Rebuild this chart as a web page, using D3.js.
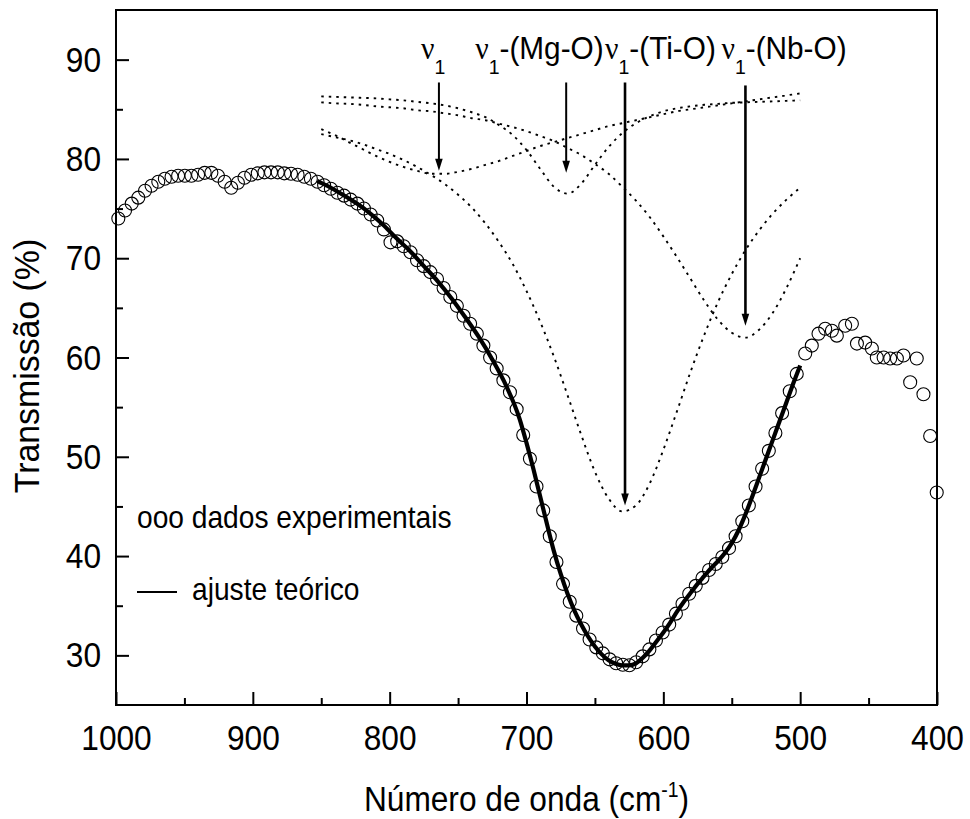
<!DOCTYPE html>
<html>
<head>
<meta charset="utf-8">
<script src="https://cdn.jsdelivr.net/npm/d3@7"></script>
<style>
  html, body { margin: 0; padding: 0; background: #fff; }
  svg { display: block; font-family: "Liberation Sans", Arial, sans-serif; }
</style>
</head>
<body>
<svg id="chart" width="970" height="819"></svg>
<script>
// FTIR transmission spectrum (wavenumber cm-1, transmission %)
const experimental = [
  [998.3,74.0],[993.4,74.8],[988.5,75.5],[983.7,76.1],[978.8,76.8],[974.0,77.3],[969.1,77.7],
  [964.3,78.0],[959.4,78.2],[954.6,78.3],[949.7,78.3],[944.9,78.3],[940.0,78.4],[935.2,78.6],
  [930.3,78.6],[925.5,78.3],[920.6,77.7],[915.8,77.1],[910.9,77.6],[906.1,78.1],[901.2,78.4],
  [896.4,78.55],[891.5,78.65],[886.7,78.65],[881.8,78.65],[877.0,78.55],[872.1,78.5],[867.3,78.4],
  [862.4,78.2],[857.6,78.0],[852.7,77.7],[847.9,77.35],[843.0,77.0],[838.2,76.6],[833.3,76.3],
  [828.5,75.9],[823.6,75.5],[818.8,75.0],[813.9,74.4],[809.1,73.8],[804.2,72.9],[799.4,71.6],
  [794.5,71.7],[789.7,71.2],[784.8,70.6],[780.0,69.8],[775.1,69.2],[770.3,68.6],[765.4,67.9],
  [760.6,67.0],[755.7,66.1],[750.9,65.2],[746.0,64.2],[741.2,63.4],[736.3,62.4],[731.5,61.2],
  [726.6,60.0],[721.8,58.9],[716.9,57.7],[712.1,56.5],[707.2,54.8],[702.4,52.2],[697.5,49.8],
  [692.7,47.0],[687.8,44.6],[683.0,42.0],[678.1,39.4],[673.3,37.2],[668.4,35.4],[663.6,34.0],
  [658.7,32.7],[653.9,31.6],[649.0,30.8],[644.2,30.2],[639.3,29.6],[634.5,29.2],[629.6,29.05],
  [624.8,29.0],[619.9,29.3],[615.1,29.9],[610.2,30.6],[605.4,31.5],[600.5,32.3],[595.7,33.1],
  [590.8,34.2],[586.0,35.2],[581.1,36.2],[576.3,37.0],[571.4,37.8],[566.6,38.6],[561.7,39.2],
  [556.9,39.9],[552.0,40.8],[547.2,42.0],[542.3,43.5],[537.5,45.1],[532.6,47.0],[527.8,48.8],
  [522.9,50.6],[518.1,52.4],[513.2,54.4],[507.6,56.6],[502.5,58.35],[496.3,60.4],[491.5,61.2],
  [486.6,62.4],[481.7,62.9],[476.8,62.7],[473.2,62.2],[467.1,63.2],[462.2,63.4],[458.5,61.4],
  [452.5,61.5],[447.6,60.9],[444.0,60.0],[439.0,60.0],[434.2,59.9],[429.3,59.9],[424.5,60.2],
  [419.6,57.5],[414.8,59.9],[409.9,56.3],[405.0,52.1],[400.2,46.4]
];

// theoretical fit (sum of the bands), 853-500 cm-1
const fitCurve = [
  [853,77.8],[845,77.25],[835,76.45],[825,75.6],[815,74.6],[805,73.4],[795,72.0],[785,70.7],
  [775,69.2],[765,67.7],[755,66.0],[745,64.1],[735,62.1],[725,59.8],[715,57.2],[705,53.8],
  [700,51.4],[695,48.8],[690,46.0],[685,43.2],[680,40.5],[675,38.2],[670,36.2],[665,34.5],
  [660,33.1],[655,31.9],[650,30.9],[645,30.1],[640,29.5],[635,29.15],[630,29.0],[625,29.0],
  [620,29.2],[615,29.75],[610,30.5],[605,31.4],[600,32.3],[595,33.3],[590,34.4],[585,35.4],
  [580,36.3],[575,37.2],[570,38.0],[565,38.8],[560,39.5],[555,40.3],[550,41.3],[545,42.6],
  [540,44.2],[535,46.0],[530,47.9],[525,49.8],[520,51.7],[515,53.6],[510,55.5],[505,57.4],[500,59.2]
];

// individual band components, sampled every 10 cm-1 from 850 to 500
const bandWavenumbers = [850,840,830,820,810,800,790,780,770,760,750,740,730,720,710,700,690,680,
  670,660,650,640,630,620,610,600,590,580,570,560,550,540,530,520,510,500];
const nu1Band = [83.0,82.4,81.7,81.0,80.3,79.7,79.2,78.8,78.5,78.5,78.7,79.0,79.4,79.8,80.3,80.8,81.3,81.7,
  82.1,82.5,82.9,83.3,83.6,83.9,84.2,84.5,84.8,85.0,85.2,85.4,85.6,85.8,86.0,86.2,86.4,86.6];
const mgOBand = [86.3,86.25,86.2,86.15,86.1,86.0,85.9,85.75,85.6,85.4,85.1,84.7,84.2,83.4,82.4,80.9,79.0,77.2,
  76.5,77.5,79.4,81.2,82.6,83.6,84.3,84.8,85.1,85.3,85.45,85.55,85.65,85.7,85.75,85.8,85.85,85.9];
const tiOBand = [82.5,82.2,81.9,81.5,81.0,80.5,79.9,79.2,78.4,77.5,76.4,75.1,73.5,71.6,69.4,66.7,63.6,60.1,
  56.2,52.2,48.5,45.8,44.5,45.1,47.3,50.7,54.6,58.6,62.3,65.6,68.4,70.8,72.8,74.5,75.9,77.1];
const nbOBand = [85.7,85.6,85.55,85.45,85.3,85.2,85.1,84.9,84.8,84.6,84.4,84.1,83.9,83.55,83.2,82.8,82.3,81.8,
  81.1,80.4,79.5,78.5,77.2,75.8,74.15,72.2,70.1,67.9,65.7,63.8,62.5,62.0,62.8,64.5,67.0,70.0];

// band assignments: label suffix, arrow wavenumber, arrow start and tip (%)
const bandLabels = ["", "-(Mg-O)", "-(Ti-O)", "-(Nb-O)"];
const bandArrowWn = [764, 671, 628, 540];
const bandArrowFrom = [87.7, 87.7, 87.7, 87.4];
const bandArrowTo = [78.8, 78.6, 45.1, 63.2];

const xMajorTicks = [1000, 900, 800, 700, 600, 500, 400];
const xMinorTicks = [950, 850, 750, 650, 550, 450];
const yMajorTicks = [30, 40, 50, 60, 70, 80, 90];
const yMinorTicks = [35, 45, 55, 65, 75, 85];

const svg = d3.select("#chart");
const plot = { left: 116, right: 937, top: 10, bottom: 705 };
const narrow = 0.88;   // horizontal condensing of the lettering

const x = d3.scaleLinear().domain([1000, 400]).range([plot.left, plot.right]);
const y = d3.scaleLinear().domain([25, 95]).range([plot.bottom, plot.top]);

// axes with inward ticks
function styleAxis(g) {
  g.select(".domain").remove();
  g.selectAll(".tick line").attr("stroke", "#000").attr("stroke-width", 2);
  g.selectAll(".tick text").attr("fill", "#000").style("font-size", "36px")
    .style("font-family", "'Liberation Sans', Arial, sans-serif")
    .attr("transform", `scale(${narrow},1)`);
}
svg.append("g").attr("transform", `translate(0,${plot.bottom})`)
  .call(d3.axisBottom(x).tickValues(xMajorTicks).tickSize(-13).tickPadding(19).tickFormat(d3.format("d")))
  .call(styleAxis);
svg.append("g").attr("transform", `translate(0,${plot.bottom})`)
  .call(d3.axisBottom(x).tickValues(xMinorTicks).tickSize(-7).tickFormat(""))
  .call(styleAxis);
svg.append("g").attr("transform", `translate(${plot.left},0)`)
  .call(d3.axisLeft(y).tickValues(yMajorTicks).tickSize(-13).tickPadding(17).tickFormat(d3.format("d")))
  .call(styleAxis);
svg.append("g").attr("transform", `translate(${plot.left},0)`)
  .call(d3.axisLeft(y).tickValues(yMinorTicks).tickSize(-7).tickFormat(""))
  .call(styleAxis);

// band components (dotted)
const bandLine = d3.line().x(d => x(d[0])).y(d => y(d[1])).curve(d3.curveMonotoneX);
[nu1Band, mgOBand, tiOBand, nbOBand].forEach(vals => {
  svg.append("path")
    .attr("d", bandLine(bandWavenumbers.map((w, i) => [w, vals[i]])))
    .attr("fill", "none").attr("stroke", "#000")
    .attr("stroke-width", 1.9).attr("stroke-dasharray", "2.5,5");
});

// experimental points
svg.append("g").selectAll("circle").data(experimental).join("circle")
  .attr("cx", d => x(d[0])).attr("cy", d => y(d[1])).attr("r", 6.5)
  .attr("fill", "none").attr("stroke", "#000").attr("stroke-width", 1.1);

// fitted curve
svg.append("path")
  .attr("d", d3.line().x(d => x(d[0])).y(d => y(d[1])).curve(d3.curveMonotoneX)(fitCurve))
  .attr("fill", "none").attr("stroke", "#000").attr("stroke-width", 4.2)
  .attr("stroke-linejoin", "round");

// band arrows and labels
const labelShift = [-18, -91, -20, -24];
const arrowWidth = [2, 2, 2.6, 2.6];
bandArrowWn.forEach((wn, i) => {
  const ax = x(wn), y0 = y(bandArrowFrom[i]), y1 = y(bandArrowTo[i]);
  svg.append("line").attr("x1", ax).attr("x2", ax).attr("y1", y0).attr("y2", y1 - 11)
    .attr("stroke", "#000").attr("stroke-width", arrowWidth[i]);
  svg.append("path")
    .attr("d", `M${ax - 3.8},${y1 - 12} L${ax + 3.8},${y1 - 12} L${ax},${y1} Z`)
    .attr("fill", "#000");
  const t = svg.append("text")
    .attr("transform", `translate(${ax + labelShift[i]},${y(90) - 1}) scale(0.93,1)`)
    .style("font-size", "32px").attr("fill", "#000");
  t.append("tspan").text("ν").style("font-family", "'Liberation Serif', 'Times New Roman', serif");
  t.append("tspan").text("1").attr("dy", 15).style("font-size", "21px");
  t.append("tspan").text(bandLabels[i]).attr("dy", -15);
});

// legend
svg.append("text").attr("transform", `translate(137,528) scale(${narrow},1)`)
  .style("font-size", "32px").text("ooo dados experimentais");
svg.append("line").attr("x1", 137).attr("x2", 177).attr("y1", 592).attr("y2", 592)
  .attr("stroke", "#000").attr("stroke-width", 2);
svg.append("text").attr("transform", `translate(192,600) scale(${narrow},1)`)
  .style("font-size", "32px").text("ajuste teórico");

// frame
svg.append("rect").attr("x", plot.left).attr("y", plot.top)
  .attr("width", plot.right - plot.left).attr("height", plot.bottom - plot.top)
  .attr("fill", "none").attr("stroke", "#000").attr("stroke-width", 2);

// axis titles
const xt = svg.append("text")
  .attr("transform", `translate(${(plot.left + plot.right) / 2},811) scale(${narrow},1)`)
  .attr("text-anchor", "middle").style("font-size", "36px");
xt.append("tspan").text("Número de onda (cm");
xt.append("tspan").text("-1").attr("dy", -14).style("font-size", "22px");
xt.append("tspan").text(")").attr("dy", 14);

svg.append("text").attr("transform", "translate(39,366) rotate(-90) scale(0.94,1)")
  .attr("text-anchor", "middle").style("font-size", "36px").text("Transmissão (%)");
</script>
</body>
</html>
